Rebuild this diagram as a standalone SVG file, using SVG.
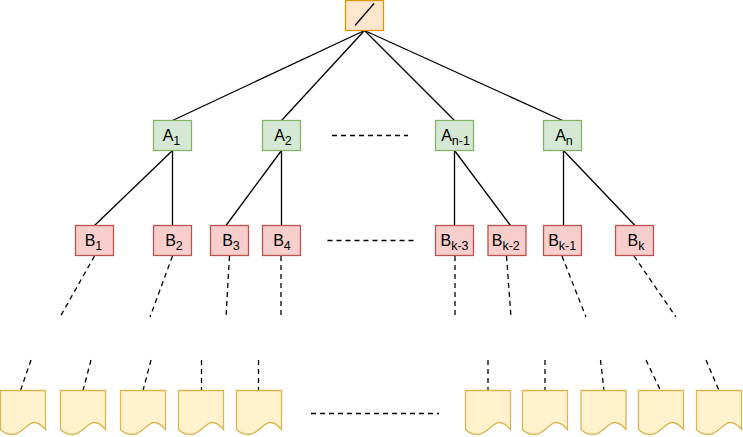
<svg xmlns="http://www.w3.org/2000/svg" width="743" height="437" viewBox="0 0 743 437">
<style>
.a{fill:#d5e8d4;stroke:#82b366}
.b{fill:#f8cecc;stroke:#b85450}
.r{fill:#ffe6cc;stroke:#d79b00}
.d{fill:#fff2cc;stroke:#d6b656}
.a,.b,.r,.d{stroke-width:1.3}
text{font-family:"Liberation Sans",Arial,sans-serif;font-size:16px;fill:#000;text-anchor:middle}
tspan{font-size:12.5px}
#conn line{stroke:#000;stroke-width:1.3;fill:none}
#conn .s{stroke-dasharray:5 4}
</style>
<defs>
<path id="doc" d="M0 0H45V39Q39 32 34 32C26 32 22 44 12 44Q5 44 0 39Z"/>
</defs>
<g id="conn">
<line x1="364.5" y1="30.5" x2="172.5" y2="120.5"/>
<line x1="364.5" y1="30.5" x2="281.5" y2="120.5"/>
<line x1="364.5" y1="30.5" x2="454.5" y2="120.5"/>
<line x1="364.5" y1="30.5" x2="562.5" y2="120.5"/>
<line x1="172.5" y1="150.5" x2="94.5" y2="225.5"/>
<line x1="172.5" y1="150.5" x2="172.5" y2="225.5"/>
<line x1="281.5" y1="150.5" x2="226" y2="225.5"/>
<line x1="281.5" y1="150.5" x2="281.5" y2="225.5"/>
<line x1="454.5" y1="150.5" x2="454.5" y2="225.5"/>
<line x1="454.5" y1="150.5" x2="510.5" y2="225.5"/>
<line x1="563.5" y1="150.5" x2="563.5" y2="225.5"/>
<line x1="563.5" y1="150.5" x2="635" y2="225.5"/>
<line class="s" x1="94.5" y1="256" x2="60" y2="317"/>
<line class="s" x1="172.5" y1="256" x2="150" y2="317"/>
<line class="s" x1="229.5" y1="256" x2="226" y2="317"/>
<line class="s" x1="281" y1="256" x2="281" y2="317"/>
<line class="s" x1="455" y1="256" x2="455" y2="317"/>
<line class="s" x1="506.5" y1="256" x2="511" y2="317"/>
<line class="s" x1="562" y1="256" x2="586" y2="317"/>
<line class="s" x1="634" y1="256" x2="676" y2="317"/>
<line class="s" x1="31" y1="360" x2="20.5" y2="390.5"/>
<line class="s" x1="91" y1="360" x2="83" y2="390.5"/>
<line class="s" x1="151" y1="360" x2="143" y2="390.5"/>
<line class="s" x1="201.5" y1="360" x2="201.5" y2="390.5"/>
<line class="s" x1="258.5" y1="360" x2="258.5" y2="390.5"/>
<line class="s" x1="488" y1="360" x2="488" y2="390.5"/>
<line class="s" x1="545" y1="360" x2="545" y2="390.5"/>
<line class="s" x1="600.5" y1="360" x2="604" y2="390.5"/>
<line class="s" x1="646" y1="360" x2="660.5" y2="390.5"/>
<line class="s" x1="706" y1="360" x2="719" y2="390.5"/>
<line class="s" x1="332" y1="135.5" x2="408" y2="135.5"/>
<line class="s" x1="327.5" y1="240.5" x2="414" y2="240.5"/>
<line class="s" x1="311" y1="413.5" x2="439" y2="413.5"/>
</g>
<g id="root"><rect class="r" x="345.5" y="0.5" width="38" height="30"/><line x1="355" y1="25.5" x2="374" y2="3.5" stroke="#000" stroke-width="1.3"/></g>
<g id="A1"><rect class="a" x="153.5" y="120.5" width="38" height="30"/><text x="171.5" y="141">A<tspan dy="4">1</tspan></text></g>
<g id="A2"><rect class="a" x="262.5" y="120.5" width="38" height="30"/><text x="283" y="141">A<tspan dy="4">2</tspan></text></g>
<g id="An-1"><rect class="a" x="435.5" y="120.5" width="38" height="30"/><text x="455.5" y="141">A<tspan dy="4">n-1</tspan></text></g>
<g id="An"><rect class="a" x="543.5" y="120.5" width="38" height="30"/><text x="564" y="141">A<tspan dy="4">n</tspan></text></g>
<g id="B1"><rect class="b" x="75.5" y="225.5" width="38" height="30"/><text x="93.5" y="246">B<tspan dy="4">1</tspan></text></g>
<g id="B2"><rect class="b" x="153.5" y="225.5" width="38" height="30"/><text x="174" y="246">B<tspan dy="4">2</tspan></text></g>
<g id="B3"><rect class="b" x="210.5" y="225.5" width="38" height="30"/><text x="231" y="246">B<tspan dy="4">3</tspan></text></g>
<g id="B4"><rect class="b" x="262.5" y="225.5" width="38" height="30"/><text x="282" y="246">B<tspan dy="4">4</tspan></text></g>
<g id="Bk-3"><rect class="b" x="435.5" y="225.5" width="38" height="30"/><text x="454.5" y="246">B<tspan dy="4">k-3</tspan></text></g>
<g id="Bk-2"><rect class="b" x="488" y="225.5" width="38" height="30"/><text x="505.8" y="246">B<tspan dy="4">k-2</tspan></text></g>
<g id="Bk-1"><rect class="b" x="543.5" y="225.5" width="38" height="30"/><text x="562.2" y="246">B<tspan dy="4">k-1</tspan></text></g>
<g id="Bk"><rect class="b" x="615.5" y="225.5" width="38" height="30"/><text x="636" y="246">B<tspan dy="4">k</tspan></text></g>
<g id="doc1"><use href="#doc" class="d" x="0.5" y="390.5"/></g>
<g id="doc2"><use href="#doc" class="d" x="60.5" y="390.5"/></g>
<g id="doc3"><use href="#doc" class="d" x="120.5" y="390.5"/></g>
<g id="doc4"><use href="#doc" class="d" x="178.5" y="390.5"/></g>
<g id="doc5"><use href="#doc" class="d" x="236.5" y="390.5"/></g>
<g id="doc6"><use href="#doc" class="d" x="465.5" y="390.5"/></g>
<g id="doc7"><use href="#doc" class="d" x="522.5" y="390.5"/></g>
<g id="doc8"><use href="#doc" class="d" x="581" y="390.5"/></g>
<g id="doc9"><use href="#doc" class="d" x="638.5" y="390.5"/></g>
<g id="doc10"><use href="#doc" class="d" x="696.5" y="390.5"/></g>
</svg>
